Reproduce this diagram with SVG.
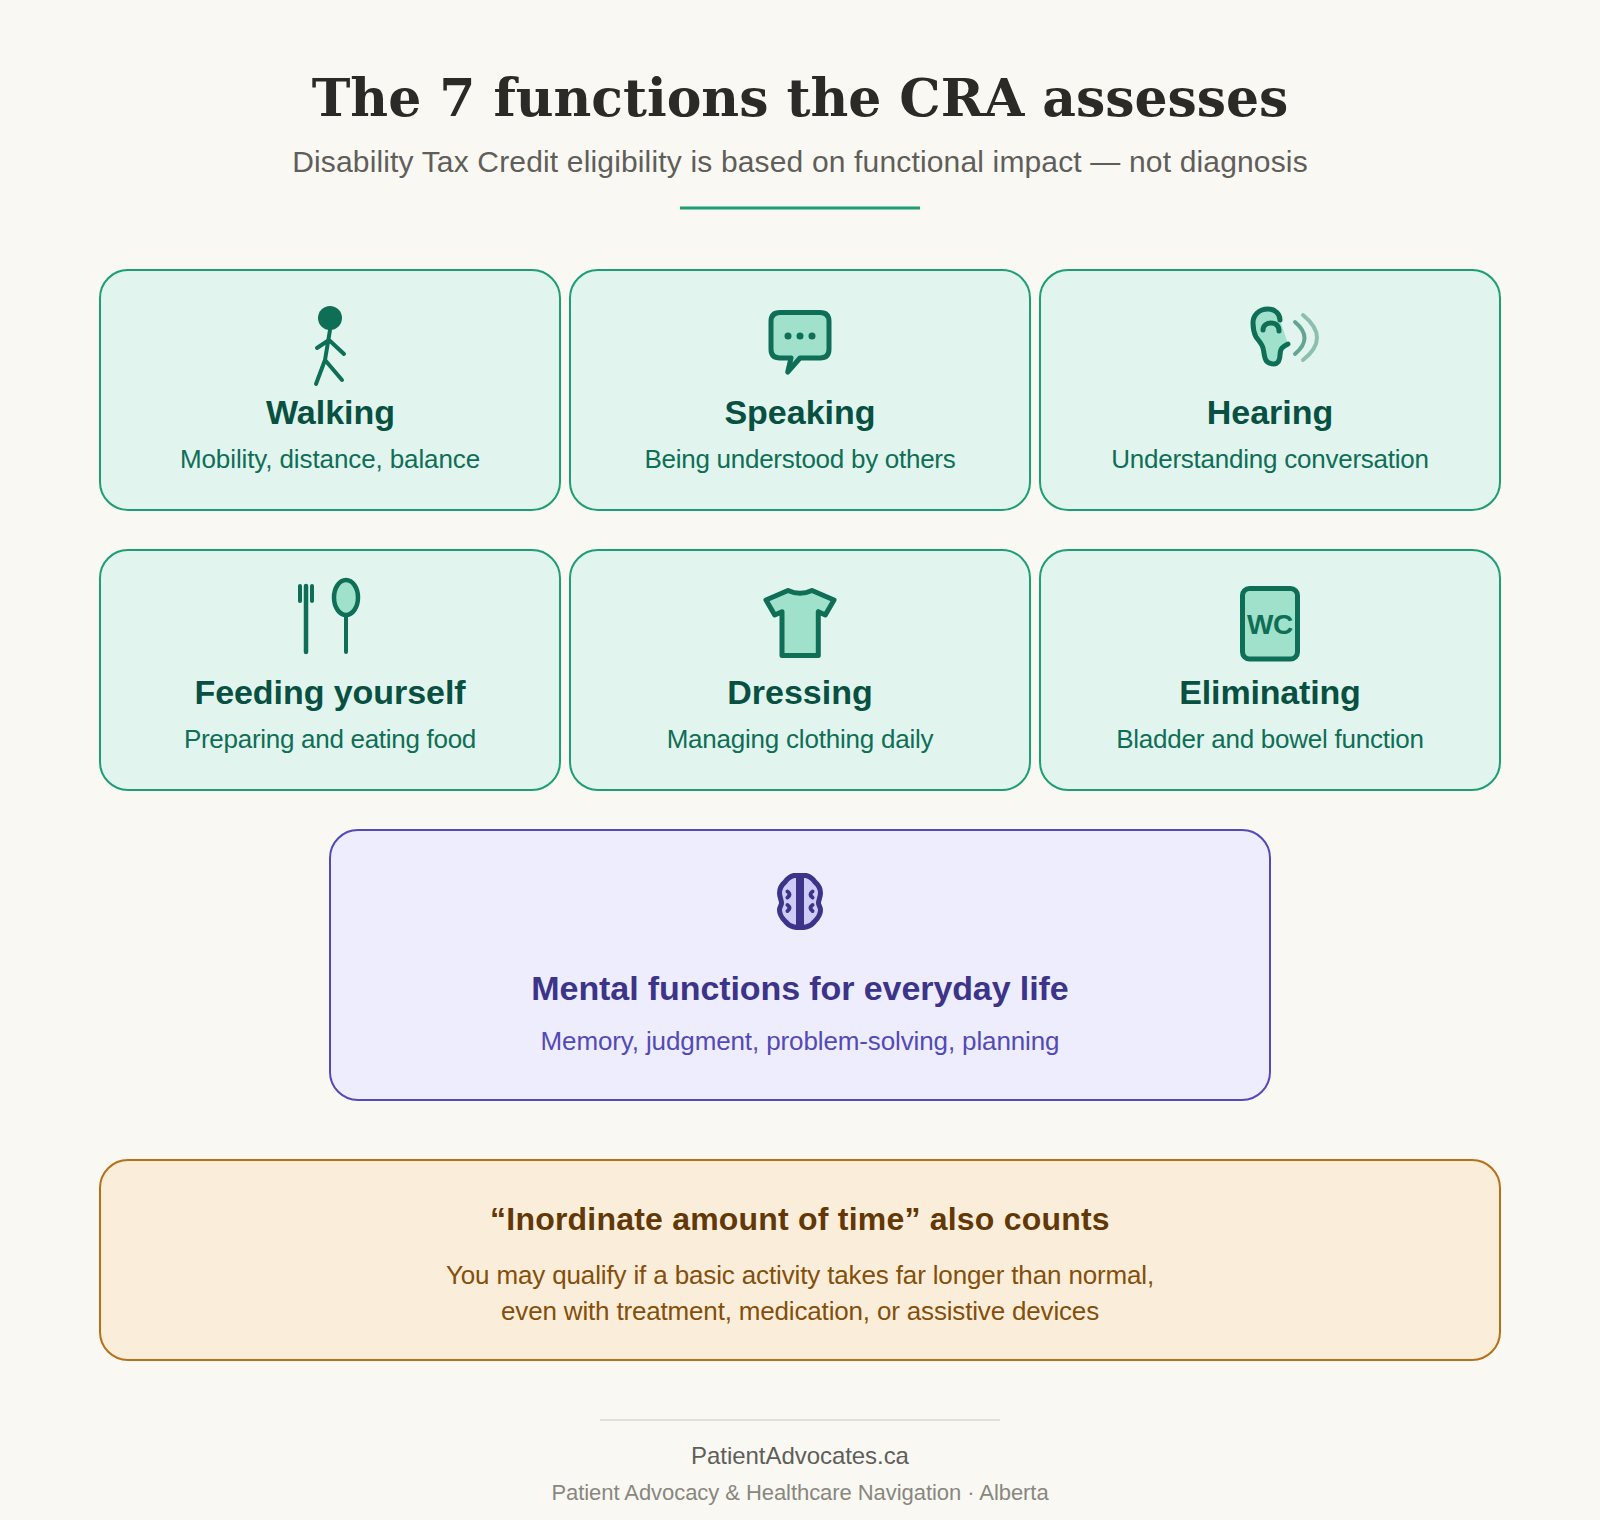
<svg xmlns="http://www.w3.org/2000/svg" width="1600" height="1520" viewBox="0 0 1600 1520">
<style>
.sans{font-family:"Liberation Sans",Arial,sans-serif;text-anchor:middle}
.card{fill:#e1f5ee;stroke:#1d9e75;stroke-width:2}
.t{font-size:34px;font-weight:700;fill:#085041}
.d{font-size:26px;fill:#0f6e56}
.ic{stroke:#0f6e56;stroke-width:5;stroke-linecap:round;stroke-linejoin:round;fill:none}
.if{fill:#9fe1cb}
.ip{stroke:#3c3489;stroke-width:5;stroke-linecap:round;stroke-linejoin:round;fill:#cecbf6}
</style>
<rect width="1600" height="1520" fill="#faf8f3"/>
<g id="header">
<text x="800" y="116" text-anchor="middle" font-family="'DejaVu Serif',serif" font-size="52" font-weight="700" fill="#2c2a26" letter-spacing="-0.03">The 7 functions the CRA assesses</text>
<text x="800" y="172" class="sans" font-size="30" fill="#5f5e5a" letter-spacing="0.157">Disability Tax Credit eligibility is based on functional impact — not diagnosis</text>
<rect x="680" y="206.500" width="240" height="3" fill="#1d9e75"/>
</g>
<g id="walking">
<rect class="card" x="100" y="270" width="460" height="240" rx="28"/>
<circle cx="330" cy="318" r="12" fill="#0f6e56"/>
<path class="ic" style="stroke-width:4" d="M330 330L325 360L316 384M325 360L342 380M317 348L329 340L344 354"/>
<text class="sans t" x="330.500" y="424">Walking</text>
<text class="sans d" x="330" y="468" letter-spacing="-0.11">Mobility, distance, balance</text>
</g>
<g id="speaking">
<rect class="card" x="570" y="270" width="460" height="240" rx="28"/>
<path class="ic if" d="M780 312.500H820Q829 312.500 829 321.500V349Q829 358 820 358H800L787.700 372L791 358H780Q771 358 771 349V321.500Q771 312.500 780 312.500Z"/>
<circle cx="788" cy="336" r="3.500" fill="#0f6e56"/><circle cx="800" cy="336" r="3.500" fill="#0f6e56"/><circle cx="812" cy="336" r="3.500" fill="#0f6e56"/>
<text class="sans t" x="800" y="424">Speaking</text>
<text class="sans d" x="800" y="468" letter-spacing="-0.27">Being understood by others</text>
</g>
<g id="hearing">
<rect class="card" x="1040" y="270" width="460" height="240" rx="28"/>
<path class="ic if" d="M1280 320C1280 313 1274 309 1268 309C1259 309 1253 315 1253 323C1253 329 1254 333 1256 337C1259 341 1262 344 1263 348C1264 352 1264 355 1265 358C1267 365 1278 366 1279 360C1281 356 1279 351 1282 348C1284 346 1286 345 1288 344"/>
<path class="ic" d="M1263 330C1263 325 1267 323 1271 323C1276 323 1279 326 1279 331"/>
<path class="ic" style="stroke-width:4" opacity="0.6" d="M1295 322Q1314 338 1295 354"/>
<path class="ic" style="stroke-width:4" opacity="0.4" d="M1303 315Q1331 338 1303 360"/>
<text class="sans t" x="1270" y="424">Hearing</text>
<text class="sans d" x="1270" y="468" letter-spacing="-0.235">Understanding conversation</text>
</g>
<g id="feeding">
<rect class="card" x="100" y="550" width="460" height="240" rx="28"/>
<path class="ic" style="stroke-width:4" d="M300 586V601M312 586V601M346 616V652"/>
<path class="ic" style="stroke-width:4.500" d="M306 586V652"/>
<ellipse class="ic if" style="stroke-width:4.500" cx="346" cy="597.500" rx="12" ry="17.500"/>
<text class="sans t" x="330" y="704" letter-spacing="-0.06">Feeding yourself</text>
<text class="sans d" x="330" y="748" letter-spacing="-0.285">Preparing and eating food</text>
</g>
<g id="dressing">
<rect class="card" x="570" y="550" width="460" height="240" rx="28"/>
<path class="ic if" d="M766 600L788 590.500Q800 596 812 590.500L834 600L825.300 615L818.300 611.700V655.500H782V611.700L774.700 615Z"/>
<text class="sans t" x="800" y="704">Dressing</text>
<text class="sans d" x="800" y="748" letter-spacing="-0.22">Managing clothing daily</text>
</g>
<g id="eliminating">
<rect class="card" x="1040" y="550" width="460" height="240" rx="28"/>
<rect class="ic if" x="1242.500" y="588.500" width="55" height="70.500" rx="7"/>
<text class="sans" x="1270" y="634" font-size="28" font-weight="700" fill="#0f6e56" letter-spacing="-0.3">WC</text>
<text class="sans t" x="1270" y="704" letter-spacing="-0.18">Eliminating</text>
<text class="sans d" x="1270" y="748" letter-spacing="-0.235">Bladder and bowel function</text>
</g>
<g id="mental">
<rect x="330" y="830" width="940" height="270" rx="28" fill="#eeedfe" stroke="#534ab7" stroke-width="2"/>
<path class="ip" d="M800 875.500C798 875.500 796 875.300 794 875.500C790 876.500 787 879 785 882C781.500 885 779.500 889 779.500 893C779.500 897 781.500 900 781.500 903C781.500 905.500 779.500 907 779.500 910C779.500 914 782 918 785 921C787.500 924.500 790 926 794 927C796 927.500 798 927.500 800 927.500C802 927.500 804 927.500 806 927C810 926 812.500 924.500 815 921C818 918 820.500 914 820.500 910C820.500 907 818.500 905.500 818.500 903C818.500 900 820.500 897 820.500 893C820.500 889 818.500 885 815 882C813 879 810 876.500 806 875.500C804 875.300 802 875.500 800 875.500Z"/>
<rect x="796" y="875.500" width="8" height="52" fill="#3c3489"/>
<path fill="none" stroke="#3c3489" stroke-width="4" stroke-linecap="round" d="M787.500 891.500Q791.500 894.500 787.500 897.500M787.500 905Q791.500 908 787.500 911M812.500 891.500Q808.500 894.500 812.500 897.500M812.500 905Q808.500 908 812.500 911"/>
<text class="sans" x="800" y="1000" font-size="34" font-weight="700" fill="#3c3489" letter-spacing="-0.09">Mental functions for everyday life</text>
<text class="sans" x="800" y="1050" font-size="26" fill="#534ab7" letter-spacing="-0.12">Memory, judgment, problem-solving, planning</text>
</g>
<g id="inordinate">
<rect x="100" y="1160" width="1400" height="200" rx="28" fill="#faeeda" stroke="#b5711a" stroke-width="2"/>
<text class="sans" x="800" y="1230" font-size="32" font-weight="700" fill="#633806" letter-spacing="0.21">“Inordinate amount of time” also counts</text>
<text class="sans" x="800" y="1284" font-size="26" fill="#854f0b" letter-spacing="-0.14">You may qualify if a basic activity takes far longer than normal,</text>
<text class="sans" x="800" y="1320" font-size="26" fill="#854f0b" letter-spacing="-0.17">even with treatment, medication, or assistive devices</text>
</g>
<g id="footer">
<rect x="600" y="1419" width="400" height="2" fill="#e2e0da"/>
<text class="sans" x="800" y="1464" font-size="24" fill="#5f5e5a" letter-spacing="-0.05">PatientAdvocates.ca</text>
<text class="sans" x="800" y="1500" font-size="22" fill="#888780" letter-spacing="-0.06">Patient Advocacy &amp; Healthcare Navigation · Alberta</text>
</g>
<g id="connectors"/>
</svg>
